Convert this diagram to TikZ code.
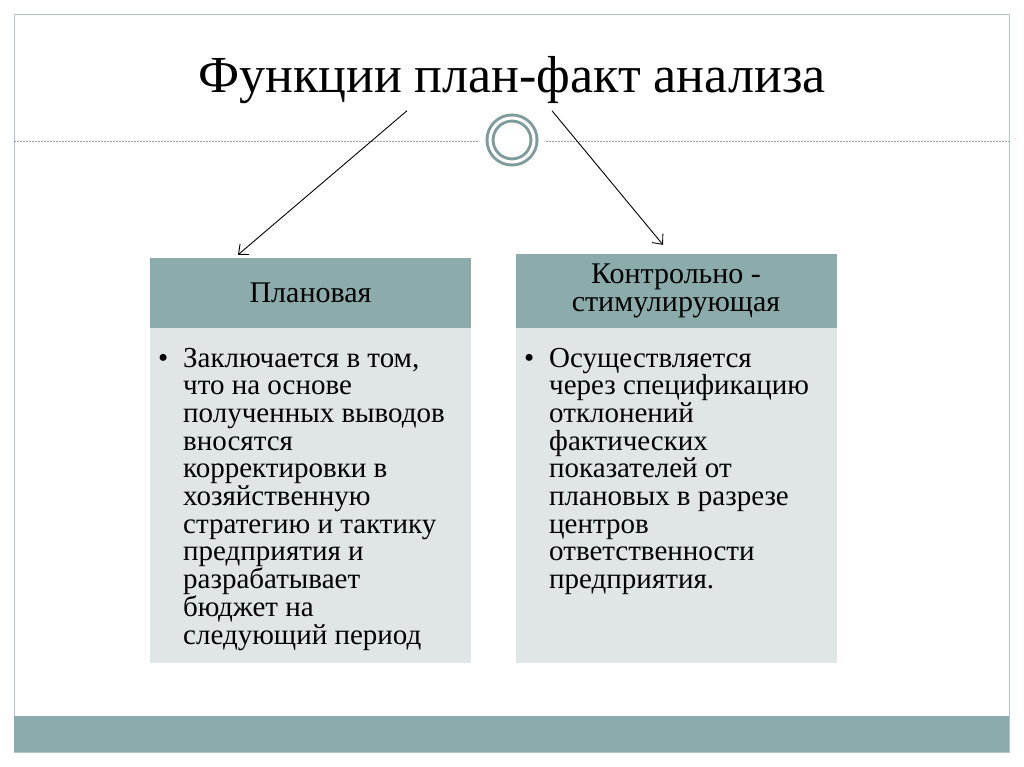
\documentclass[tikz,border=0pt]{standalone}
\usepackage{fontspec}
\setmainfont{Liberation Serif}
\usetikzlibrary{arrows.meta}
\definecolor{hdr}{RGB}{139,172,171}
\definecolor{pale}{RGB}{223,230,229}
\definecolor{ring}{RGB}{127,156,156}
\definecolor{framegray}{RGB}{178,196,200}
\definecolor{rulegray}{RGB}{150,162,166}
\tikzstyle{head}=[rectangle,fill=hdr,inner sep=0pt,minimum width=321,align=center,font=\fontsize{30}{28}\selectfont]
\tikzstyle{pane}=[rectangle,fill=pale,inner sep=0pt,minimum width=321,minimum height=335]
\tikzstyle{item}=[anchor=base west,inner sep=0pt,font=\fontsize{29}{27.7}\selectfont]
\tikzstyle{link}=[-{Straight Barb[length=8pt,width=14pt]},line width=0.9pt]
\newcommand{\bul}[1]{\makebox[25pt][l]{\textbullet}\parbox[t]{290pt}{\raggedright #1}}

\begin{document}
\begin{tikzpicture}[x=1pt,y=-1pt]
  \useasboundingbox (0,0) rectangle (1024,767);
  % slide frame and footer bar
  \draw[framegray,line width=1pt] (14,15) rectangle (1009,752);
  \fill[hdr] (14,716) rectangle (1009,752);
  \draw[rulegray,dash pattern=on 2pt off 1pt] (14,141) -- (478,141);
  \draw[rulegray,dash pattern=on 2pt off 1pt] (546,141) -- (1009,141);
  \node[circle,draw=ring,line width=3pt,double=white,double distance=3pt,minimum size=44,inner sep=0pt] (ring) at (512,140) {};
  \node[anchor=base,font=\fontsize{52}{56}\selectfont] (title) at (512,93) {Функции план-факт анализа};
  % left column
  \node[head,minimum height=70] (hdrL) at (310.5,293) {Плановая};
  \node[pane,anchor=north] (bodyL) at (hdrL.south) {};
  \node[item] (txtL) at (158,367) {\bul{Заключается в том,\\ что на основе\\ полученных выводов\\ вносятся\\ корректировки в\\ хозяйственную\\ стратегию и тактику\\ предприятия и\\ разрабатывает\\ бюджет на\\ следующий период}};
  % right column
  \node[head,minimum height=74] (hdrR) at (676,291) {Контрольно -\\ стимулирующая};
  \node[pane,anchor=north] (bodyR) at (hdrR.south) {};
  \node[item] (txtR) at (524,367) {\bul{Осуществляется\\ через спецификацию\\ отклонений\\ фактических\\ показателей от\\ плановых в разрезе\\ центров\\ ответственности\\ предприятия.}};
  % arrows from the title to both headers
  \draw[link] ([xshift=-105pt,yshift=-3pt]title.south) -- ([xshift=-72.5pt,yshift=3pt]hdrL.north);
  \draw[link] ([xshift=40pt,yshift=-3pt]title.south) -- ([xshift=-13pt,yshift=9pt]hdrR.north);
\end{tikzpicture}
\end{document}
